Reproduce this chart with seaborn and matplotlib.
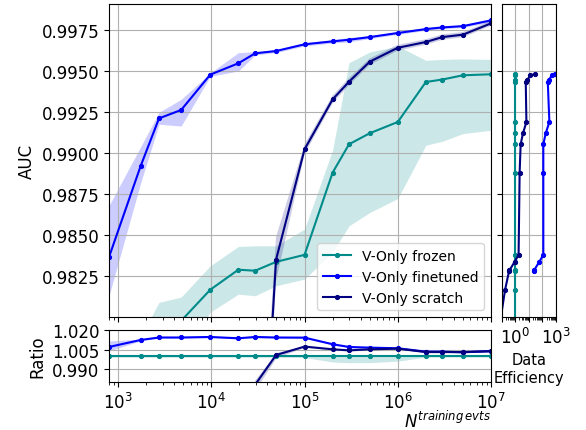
import numpy as np
import pandas as pd
import seaborn as sns
import matplotlib
matplotlib.use("Agg")
import matplotlib.pyplot as plt
import matplotlib.ticker as mticker

nan = np.nan

# number of training events
n_train = [800, 1750, 2750, 4750, 9750, 19500, 29500, 49500, 1e5, 2e5, 3e5,
           5e5, 1e6, 2e6, 3e6, 5e6, 1e7]

# AUC (mean, lower, upper)
frozen_auc = [0.9767, 0.9770, 0.9780, 0.97977, 0.98167, 0.98289, 0.98283, 0.98337,
              0.9838, 0.98882, 0.99055, 0.99122, 0.99191, 0.99435, 0.9945, 0.99476, 0.99482]
frozen_lo = [0.9740, 0.9750, 0.9760, 0.9775, 0.9803, 0.9814, 0.9813, 0.98191,
             0.98232, 0.98396, 0.98557, 0.98638, 0.98724, 0.99049, 0.99073, 0.9912, 0.9914]
frozen_hi = [0.9785, 0.9788, 0.9809, 0.98122, 0.98313, 0.98431, 0.98435, 0.98435,
             0.98537, 0.9902, 0.99553, 0.99618, 0.99654, 0.99567, 0.99573, 0.99576, 0.99573]

finetuned_auc = [0.98366, 0.98923, 0.99213, 0.99264, 0.9948, 0.99549, 0.9961, 0.99624,
                 0.99665, 0.99683, 0.99693, 0.99709, 0.99734, 0.99758, 0.99768, 0.99776, 0.99811]
finetuned_lo = [0.9813, 0.9882, 0.99177, 0.99166, 0.9947, 0.99502, 0.9960, 0.99615,
                0.99655, 0.99673, 0.9968, 0.9970, 0.99726, 0.9975, 0.9976, 0.99768, 0.9980]
finetuned_hi = [0.9868, 0.9904, 0.9925, 0.99329, 0.9949, 0.99614, 0.9962, 0.99632,
                0.99675, 0.99693, 0.99706, 0.99718, 0.99742, 0.99766, 0.99776, 0.99784, 0.99822]

scratch_auc = [0.930, 0.935, 0.940, 0.945, 0.950, 0.955, 0.962, 0.98351,
               0.99024, 0.99329, 0.99437, 0.99559, 0.99644, 0.99679, 0.99709, 0.99724, 0.99793]
scratch_lo = [0.925, 0.930, 0.935, 0.940, 0.945, 0.950, 0.959, 0.9822,
              0.98994, 0.99305, 0.99415, 0.99539, 0.99626, 0.99662, 0.99692, 0.99708, 0.99778]
scratch_hi = [0.935, 0.940, 0.945, 0.950, 0.955, 0.960, 0.965, 0.9849,
              0.99054, 0.99353, 0.99459, 0.99579, 0.99662, 0.99696, 0.99726, 0.9974, 0.99808]

# ratio to frozen
frozen_ratio = [1.0] * 17
frozen_ratio_lo = [0.9992] * 8 + [0.9990, 0.9955, 0.9950, 0.9950, 0.9962,
                                  0.9993, 0.9993, 0.9993, 0.9993]
frozen_ratio_hi = [1.0008] * 17

finetuned_ratio = [1.0071, 1.0125, 1.0144, 1.0144, 1.0148, 1.0138, 1.0148, 1.0144,
                   1.0143, 1.0092, 1.0071, 1.0066, 1.0061, 1.0035, 1.0035, 1.0030, 1.0040]
finetuned_ratio_lo = [1.0040, 1.0119, 1.0139, 1.0139, 1.0143, 1.0133, 1.0143, 1.0139,
                      1.0138, 1.0087, 1.0066, 1.0061, 1.0056, 1.0030, 1.0030, 1.0025, 1.0035]
finetuned_ratio_hi = [1.0117, 1.0131, 1.0149, 1.0149, 1.0153, 1.0143, 1.0153, 1.0149,
                      1.0148, 1.0097, 1.0076, 1.0071, 1.0066, 1.0040, 1.0040, 1.0035, 1.0045]

scratch_ratio = [0.90, 0.91, 0.92, 0.93, 0.94, 0.95, 0.978, 1.0009,
                 1.0074, 1.0053, 1.0045, 1.0053, 1.0058, 1.0032, 1.0032, 1.0032, 1.0038]
scratch_ratio_lo = [0.895, 0.905, 0.915, 0.925, 0.935, 0.945, 0.974, 0.9989,
                    1.0069, 1.0048, 1.0040, 1.0048, 1.0053, 1.0027, 1.0027, 1.0027, 1.0033]
scratch_ratio_hi = [0.905, 0.915, 0.925, 0.935, 0.945, 0.955, 0.982, 1.0029,
                    1.0079, 1.0058, 1.0050, 1.0058, 1.0063, 1.0037, 1.0037, 1.0037, 1.0043]

# data efficiency at the frozen AUC levels
frozen_eff = [1.0] * 17
finetuned_eff = [nan, nan, nan, nan, nan, 23, 23, 58, 115, 115, 115, 173, 320, 245, 310, 490, 850]
scratch_eff = [nan, nan, nan, 0.08, 0.18, 0.37, 0.36, 0.9, 1.76, 2.1, 2.5, 3.7, 6.6, 5.9, 7.9, 13, 27]

series = [
    ("V-Only frozen", "darkcyan", frozen_auc, frozen_lo, frozen_hi,
     frozen_ratio, frozen_ratio_lo, frozen_ratio_hi, frozen_eff),
    ("V-Only finetuned", "blue", finetuned_auc, finetuned_lo, finetuned_hi,
     finetuned_ratio, finetuned_ratio_lo, finetuned_ratio_hi, finetuned_eff),
    ("V-Only scratch", "navy", scratch_auc, scratch_lo, scratch_hi,
     scratch_ratio, scratch_ratio_lo, scratch_ratio_hi, scratch_eff),
]

plt.rcParams["font.size"] = 12

fig = plt.figure(figsize=(5.86, 4.31), dpi=100)
ax = fig.add_axes([0.186, 0.262, 0.652, 0.726])
ax_r = fig.add_axes([0.186, 0.111, 0.652, 0.122], sharex=ax)
ax_e = fig.add_axes([0.856, 0.262, 0.093, 0.726], sharey=ax)

line_kw = dict(marker=".", markersize=6, linewidth=1.5, errorbar=None)

for name, c, auc, lo, hi, rat, rlo, rhi, eff in series:
    df = pd.DataFrame({"n": n_train, "auc": auc, "ratio": rat,
                       "eff": eff, "frozen": frozen_auc})
    sns.lineplot(data=df, x="n", y="auc", ax=ax, color=c, markeredgecolor=c,
                 label=name, **line_kw)
    ax.fill_between(n_train, lo, hi, color=c, alpha=0.2, lw=0)

    sns.lineplot(data=df, x="n", y="ratio", ax=ax_r, color=c, markeredgecolor=c,
                 legend=False, **line_kw)
    ax_r.fill_between(n_train, rlo, rhi, color=c, alpha=0.2, lw=0)

    sns.lineplot(data=df.dropna(), x="eff", y="frozen", ax=ax_e, color=c,
                 markeredgecolor=c, sort=False, estimator=None, orient="y",
                 legend=False, marker=".", markersize=6, linewidth=1.5)

# main panel
ax.set_xscale("log")
ax.set_xlim(800, 1e7)
ax.set_ylim(0.98, 0.9991)
ax.set_yticks([0.9825, 0.985, 0.9875, 0.99, 0.9925, 0.995, 0.9975])
ax.yaxis.set_major_formatter(mticker.FormatStrFormatter("%.4f"))
ax.set_ylabel("AUC")
ax.set_xlabel("")
ax.tick_params(labelbottom=False)
ax.grid(True)
ax.legend(loc="lower right", fontsize=10)

# ratio panel
ax_r.set_ylim(0.98, 1.0205)
ax_r.set_yticks([0.99, 1.005, 1.02])
ax_r.yaxis.set_major_formatter(mticker.FormatStrFormatter("%.3f"))
ax_r.set_ylabel("Ratio")
ax_r.set_xlabel(r"$N^{training\,evts}$", loc="right", fontsize=12, labelpad=-2)
ax_r.grid(True)

# data efficiency panel
ax_e.set_xscale("log")
ax_e.set_xlim(0.1, 1000)
ax_e.set_xticks([0.1, 1, 10, 100, 1000])
ax_e.set_xticklabels(["", r"$10^0$", "", "", r"$10^3$"])
ax_e.set_xlabel("Data\nEfficiency", fontsize=10.5)
ax_e.set_ylabel("")
ax_e.tick_params(labelleft=False)
ax_e.grid(True)

fig.savefig("out.png", dpi=100)
